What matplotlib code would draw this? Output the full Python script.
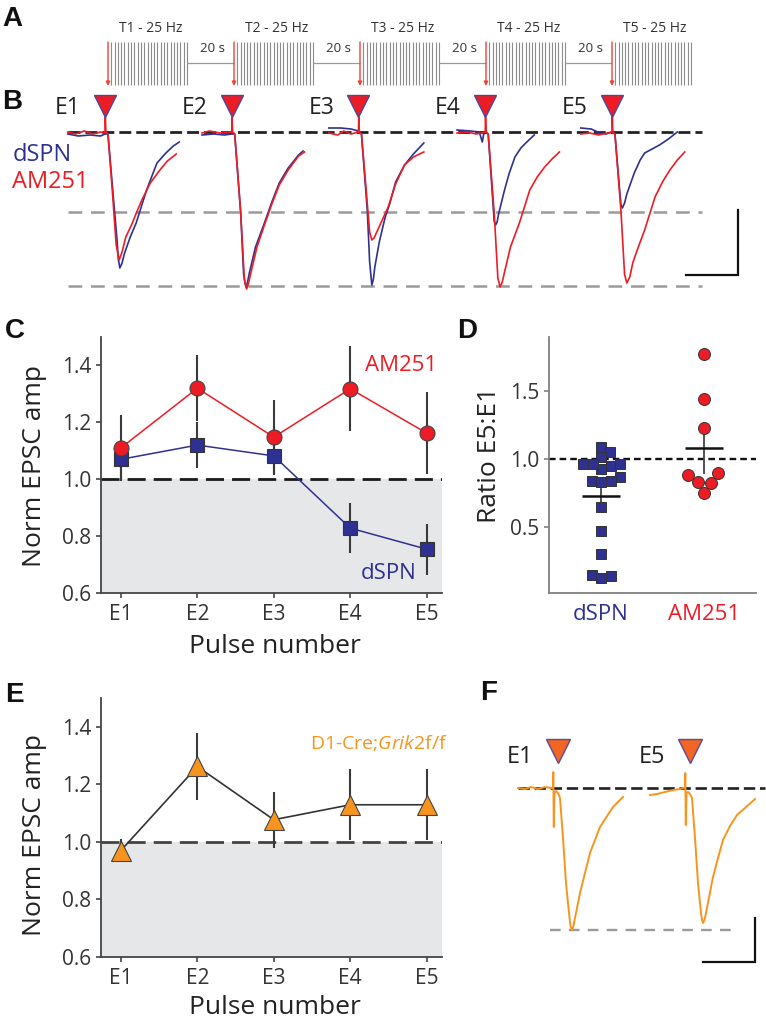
import numpy as np
import matplotlib
matplotlib.use("Agg")
import matplotlib.pyplot as plt

W, H = 766, 1018

# ---------------- data ----------------
# A: stimulation protocol
train_labels = ["T1 - 25 Hz", "T2 - 25 Hz", "T3 - 25 Hz", "T4 - 25 Hz", "T5 - 25 Hz"]
n_pulses = 25
pulse_rate = 25.0
gap_label = "20 s"

pulse_names = ["E1", "E2", "E3", "E4", "E5"]

# B: first EPSC of each train (time in ms from stim, current in pA)
b_dspn_t = [
    [-50, -36, -20, -6, 0, 4, 11, 16, 18, 20, 23, 26, 34, 42, 56, 70, 82, 92, 100],
    [-40, -24, -10, 0, 4, 12, 16, 19, 21, 24, 32, 44, 54, 64, 76, 90, 96],
    [-40, -24, -10, 0, 4, 12, 15, 18, 20, 22, 28, 36, 42, 50, 62, 74, 88],
    [-38, -20, -8, -4, -2, 0, 4, 8, 12, 14, 16, 18, 26, 32, 40, 48, 56, 66],
    [-42, -28, -16, -8, 0, 4, 8, 12, 14, 17, 20, 30, 38, 44, 54, 64, 76, 88],
]
b_dspn_i = [
    [-4, -8, -6, -8, -4, -4, -126, -212, -255, -272, -262, -244, -210, -182, -116, -62, -42, -28, -20],
    [-6, -4, -6, -4, -4, -160, -285, -310, -302, -280, -230, -182, -140, -102, -72, -46, -38],
    [8, 8, 6, 2, -4, -160, -260, -306, -295, -270, -220, -170, -144, -100, -66, -44, -22],
    [4, 2, 0, -20, -4, 0, -4, -90, -178, -186, -180, -164, -116, -84, -50, -32, -20, -6],
    [8, 6, -2, -4, 0, -4, -76, -145, -152, -142, -124, -82, -56, -42, -34, -26, -14, 0],
]
b_am251_t = [
    [-50, -40, -28, -16, -6, 0, 0.4, 1.2, 4, 10, 15, 19, 23, 28, 36, 43, 50, 61, 74, 84, 96],
    [-40, -30, -16, 0, 0.4, 1.2, 4, 12, 17, 20, 22, 26, 34, 44, 54, 64, 76, 90, 98],
    [-40, -28, -20, -10, 0, 0.4, 1.2, 4, 10, 15, 18, 21, 24, 32, 40, 50, 62, 74, 88],
    [-38, -24, -12, 0, 0.4, 1.2, 4, 12, 17, 20, 23, 26, 34, 46, 60, 70, 80, 90, 100],
    [-42, -30, -18, -6, 0, 0.4, 1.2, 4, 12, 17, 20, 24, 28, 34, 44, 58, 68, 78, 88, 98],
]
b_am251_i = [
    [0, -4, 2, -4, 0, -2, 30, 0, -4, -120, -225, -256, -240, -210, -185, -159, -135, -102, -76, -58, -44],
    [-2, 2, -2, 0, 30, 0, -4, -160, -295, -314, -306, -280, -230, -186, -144, -106, -76, -48, -40],
    [-2, -6, 2, -4, 0, 30, 0, -4, -110, -200, -216, -212, -202, -176, -150, -104, -66, -50, -40],
    [-2, 0, -4, 0, 30, 0, -4, -160, -292, -310, -300, -280, -230, -182, -116, -90, -70, -54, -40],
    [-4, -2, -6, -2, 0, 30, 0, -4, -156, -285, -302, -290, -262, -236, -196, -130, -100, -76, -56, -40],
]
b_ref_levels = [-160, -308]
b_scale_ms = 70
b_scale_pa = 130

# C: normalised EPSC amplitude
c_dspn_mean = [1.07, 1.12, 1.082, 0.828, 0.754]
c_dspn_sem = [0.07, 0.08, 0.067, 0.087, 0.09]
c_am251_mean = [1.11, 1.32, 1.148, 1.318, 1.162]
c_am251_sem = [0.115, 0.115, 0.13, 0.15, 0.145]

# D: ratio E5:E1 per cell
d_groups = ["dSPN", "AM251"]
d_dspn = [1.09, 1.054, 1.02, 0.963, 0.93, 0.95, 0.963, 0.963, 0.87,
          0.84, 0.84, 0.83, 0.647, 0.47, 0.30, 0.147, 0.14, 0.125]
d_am251 = [1.772, 1.441, 1.23, 0.902, 0.887, 0.833, 0.826, 0.755]
d_sem = [0.115, 0.19]

# E: D1-Cre;Grik2 f/f
e_mean = [0.97, 1.262, 1.077, 1.129, 1.129]
e_sem = [0.04, 0.117, 0.097, 0.124, 0.124]

# F: E1 and E5 traces
f_t = [
    [-70, -56, -44, -30, -16, -4, 0, 0.6, 1.6, 3, 6, 10, 14, 20, 26, 32, 35, 38, 41, 44, 54, 64, 74, 94, 120, 140],
    [-70, -56, -40, -24, -10, -4, 0, 0.6, 1.6, 3, 6, 10, 14, 20, 26, 32, 34, 36, 39, 42, 56, 66, 76, 90, 104, 120, 140],
]
f_i = [
    [0, -2, 2, -2, 2, 0, 0, 32, -78, -10, -6, -10, -20, -100, -190, -250, -276, -284, -276, -260, -210, -170, -130, -78, -38, -18],
    [-14, -12, -8, -4, -2, 0, 0, 30, -74, -10, -8, -12, -20, -100, -190, -250, -264, -270, -264, -250, -178, -140, -104, -76, -54, -40, -22],
]
f_names = ["E1", "E5"]
f_ref_level = -284
f_scale_ms = 104
f_scale_pa = 88

BLUE = "#2e3192"
RED = "#ed1c24"
ORANGE = "#f7941d"
ARROW = "#ef4136"
SHADE = "#e6e7e8"
TXT = "#333333"


def px_axes(fig, x0, y0, x1, y1):
    return fig.add_axes([x0 / W, 1 - y1 / H, (x1 - x0) / W, (y1 - y0) / H])


def ftext(fig, x, y, s, **kw):
    return fig.text(x / W, 1 - y / H, s, **kw)


def style_axes(ax, color="#444444"):
    for s in ("top", "right"):
        ax.spines[s].set_visible(False)
    for s in ("left", "bottom"):
        ax.spines[s].set_color(color)
        ax.spines[s].set_linewidth(1.3)
    ax.tick_params(direction="out", length=3.6, width=1.2, color=color,
                   labelsize=15, labelcolor=TXT, pad=3.5)
    ax.tick_params(axis="x", pad=4.5)


def swarm_offsets(values, px_per_x, px_per_y, diam):
    vals = np.asarray(values, float)
    steps = np.arange(0.5, 80, 0.5)
    cands = np.concatenate([[0.0], np.ravel(np.column_stack([steps, -steps]))])
    placed = []
    offs = np.zeros(len(vals))
    for i in np.argsort(vals):
        y = vals[i] * px_per_y
        for c in cands:
            if all((c - px) ** 2 + (y - py) ** 2 >= diam ** 2 for px, py in placed):
                break
        placed.append((c, y))
        offs[i] = c / px_per_x
    return offs


def main():
    plt.rcParams["font.family"] = ["Open Sans", "DejaVu Sans"]
    plt.rcParams["mathtext.fontset"] = "custom"
    plt.rcParams["mathtext.rm"] = "Open Sans"
    plt.rcParams["mathtext.it"] = "Open Sans:italic"

    fig = plt.figure(figsize=(W / 100, H / 100), dpi=100)

    # ---------- A ----------
    axA = px_axes(fig, 0, 0, W, 90)
    axA.set_axis_off()
    px_per_s = 82.3
    axA.set_xlim(-108 / px_per_s, (W - 108) / px_per_s)
    axA.set_ylim(90, 0)
    train_len = (n_pulses - 1) / pulse_rate
    gap_draw = 0.571
    for i, lab in enumerate(train_labels):
        x0 = i * (train_len + gap_draw)
        xs = x0 + np.arange(1, n_pulses) / pulse_rate
        axA.vlines(xs, 42, 85, color="#8c8c8c", lw=0.8)
        axA.annotate("", xy=(x0, 86), xytext=(x0, 42),
                     arrowprops=dict(arrowstyle="-|>", color=ARROW, lw=1.0,
                                     mutation_scale=6, shrinkA=0, shrinkB=0))
        axA.text(x0 + train_len / 2 + 0.04, 29, lab, ha="center", va="center",
                 fontsize=10, color=TXT)
        if i < len(train_labels) - 1:
            axA.hlines(63, x0 + train_len, x0 + train_len + gap_draw, color="#9a9a9a", lw=0.9)
            axA.text(x0 + train_len + gap_draw / 2 + 0.02, 48, gap_label, ha="center",
                     va="center", fontsize=9.5, color=TXT)

    # ---------- B ----------
    axB = px_axes(fig, 0, 88, W, 300)
    axB.set_axis_off()
    px_per_ms = 0.7425
    axB.set_xlim(-105 / px_per_ms, (W - 105) / px_per_ms)
    axB.set_ylim(-336, 88)
    sweep_gap = 170.7
    x_end = 804
    axB.hlines(0, -50, x_end, color="#222222", lw=2.0, linestyles=(0, (4.3, 1.8)), zorder=1)
    for lev in b_ref_levels:
        axB.hlines(lev, -50, x_end, color="#9a9a9a", lw=1.8, linestyles=(0, (5.5, 3.5)), zorder=1)
    for k, name in enumerate(pulse_names):
        off = k * sweep_gap
        axB.plot(np.array(b_dspn_t[k]) + off, b_dspn_i[k], color=BLUE, lw=1.2, zorder=3,
                 solid_joinstyle="round")
        axB.plot(np.array(b_am251_t[k]) + off, b_am251_i[k], color=RED, lw=1.2, zorder=4,
                 solid_joinstyle="round")
        axB.plot([off], [52], marker="v", ms=16, mfc=RED, mec="#4a4a9c", mew=1.0,
                 ls="none", zorder=5)
        axB.text(off - 50, 47, name, ha="center", va="center", fontsize=16.5, color="#222222")
    axB.text(-125, -46, "dSPN", ha="left", va="center", fontsize=17, color=BLUE)
    axB.text(-125, -100, "AM251", ha="left", va="center", fontsize=17, color=RED)
    sx, sy = 852, -286
    axB.plot([sx - b_scale_ms, sx, sx], [sy, sy, sy + b_scale_pa], color="#111111", lw=1.6,
             solid_joinstyle="miter")

    # ---------- C ----------
    xs = np.arange(len(pulse_names))
    axC = px_axes(fig, 101, 337, 442, 593)
    axC.set_xlim(-0.26, 4.2)
    axC.set_ylim(0.6, 1.5)
    axC.axhspan(0.6, 1.0, color=SHADE, lw=0, zorder=0)
    axC.axhline(1.0, color="#1a1a1a", lw=2.0, dashes=(6.5, 2.9), zorder=1)
    dm, ds = np.array(c_dspn_mean), np.array(c_dspn_sem)
    am, asem = np.array(c_am251_mean), np.array(c_am251_sem)
    axC.vlines(xs, dm - ds, dm + ds, color="#3a3a3a", lw=1.5, zorder=2)
    axC.vlines(xs, am - asem, am + asem, color="#3a3a3a", lw=1.5, zorder=2)
    axC.plot(xs, dm, color=BLUE, lw=1.1, marker="s", ms=9.4, mfc=BLUE, mec="#333333",
             mew=0.8, zorder=3)
    axC.plot(xs, am, color=RED, lw=1.1, marker="o", ms=10.8, mfc=RED, mec="#444444",
             mew=0.8, zorder=4)
    axC.set_xticks(xs, pulse_names)
    axC.set_yticks([0.6, 0.8, 1.0, 1.2, 1.4], ["0.6", "0.8", "1.0", "1.2", "1.4"])
    style_axes(axC)
    axC.text(4.13, 1.4, "AM251", ha="right", va="center", fontsize=16, color=RED)
    axC.text(3.87, 0.67, "dSPN", ha="right", va="center", fontsize=16, color=BLUE)
    ftext(fig, 35, 466, "Norm EPSC amp", rotation=90, ha="center", va="center",
          fontsize=19, color="#222222")
    ftext(fig, 275, 653, "Pulse number", ha="center", va="baseline", fontsize=19,
          color="#222222")

    # ---------- D ----------
    axD = px_axes(fig, 549, 337, 756, 593)
    axD.set_xlim(-0.505, 1.505)
    axD.set_ylim(0.015, 1.9)
    axD.axhline(1.0, color="#111111", lw=1.7, dashes=(2.8, 1.7), zorder=1)
    groups = [(d_dspn, "s", 7.2, BLUE, 9.5), (d_am251, "o", 8.6, RED, 12.0)]
    for g, (vals, mk, ms, col, diam) in enumerate(groups):
        offs = swarm_offsets(vals, 103.0, 136.0, diam)
        mean = float(np.mean(vals))
        axD.vlines(g, mean - d_sem[g], mean + d_sem[g], color="#444444", lw=1.3, zorder=2)
        axD.plot(g + offs, vals, ls="none", marker=mk, ms=ms, mfc=col, mec="#333333",
                 mew=0.7, zorder=3)
        axD.hlines(mean, g - 0.185, g + 0.185, color="#111111", lw=1.8, zorder=4)
    axD.set_xticks([0, 1], d_groups)
    axD.set_yticks([0.5, 1.0, 1.5], ["0.5", "1.0", "1.5"])
    style_axes(axD, color="#808080")
    axD.tick_params(axis="x", length=0, pad=8, labelsize=16)
    for lab, col in zip(axD.get_xticklabels(), [BLUE, RED]):
        lab.set_color(col)
    ftext(fig, 490, 455, "Ratio E5:E1", rotation=90, ha="center", va="center",
          fontsize=19, color="#222222")

    # ---------- E ----------
    axE = px_axes(fig, 101, 698, 442, 957)
    axE.set_xlim(-0.26, 4.2)
    axE.set_ylim(0.6, 1.5)
    axE.axhspan(0.6, 1.0, color=SHADE, lw=0, zorder=0)
    axE.axhline(1.0, color="#444444", lw=2.0, dashes=(6.5, 2.9), zorder=1)
    em, es = np.array(e_mean), np.array(e_sem)
    axE.vlines(xs, em - es, em + es, color="#3a3a3a", lw=1.5, zorder=2)
    axE.plot(xs, em, color="#333333", lw=1.2, marker="^", ms=14, mfc=ORANGE,
             mec="#444444", mew=0.8, zorder=3)
    axE.set_xticks(xs, pulse_names)
    axE.set_yticks([0.6, 0.8, 1.0, 1.2, 1.4], ["0.6", "0.8", "1.0", "1.2", "1.4"])
    style_axes(axE)
    axE.text(2.47, 1.345, r"D1-Cre;$\mathit{Grik2}$f/f", ha="left", va="center",
             fontsize=14, color=ORANGE)
    ftext(fig, 35, 835, "Norm EPSC amp", rotation=90, ha="center", va="center",
          fontsize=19, color="#222222")
    ftext(fig, 275, 1014, "Pulse number", ha="center", va="baseline", fontsize=19,
          color="#222222")

    # ---------- F ----------
    axF = px_axes(fig, 480, 700, W, 1000)
    axF.set_axis_off()
    axF.set_xlim(-146, 426)
    axF.set_ylim(-424, 176)
    f_gap = 264
    axF.hlines(0, -70, 424, color="#222222", lw=1.9, linestyles=(0, (4.3, 1.8)), zorder=1)
    axF.hlines(f_ref_level, -6, 370, color="#9a9a9a", lw=1.7, linestyles=(0, (4.5, 3.5)), zorder=1)
    for k, name in enumerate(f_names):
        off = k * f_gap
        axF.plot(np.array(f_t[k]) + off, f_i[k], color=ORANGE, lw=1.4, zorder=3,
                 solid_joinstyle="round")
        axF.plot([off + 10], [74], marker="v", ms=17, mfc="#f26522", mec="#5b4a9b",
                 mew=1.0, ls="none", zorder=5)
        axF.text(off - 66, 62, name, ha="center", va="center", fontsize=17, color="#222222")
    fx, fy = 404, -348
    axF.plot([fx - f_scale_ms, fx, fx], [fy, fy, fy + f_scale_pa], color="#111111", lw=1.6,
             solid_joinstyle="miter")

    # ---------- panel letters ----------
    letters = [("A", 2, 26), ("B", 2, 109), ("C", 5, 338), ("D", 457, 338),
               ("E", 5, 702), ("F", 480, 700)]
    for s, x, y in letters:
        ftext(fig, x, y, s, fontsize=20, fontweight="bold", va="baseline", ha="left",
              family=["Liberation Sans", "DejaVu Sans"], color="#111111")

    fig.savefig("out.png", dpi=100)
    plt.close(fig)


if __name__ == "__main__":
    main()
